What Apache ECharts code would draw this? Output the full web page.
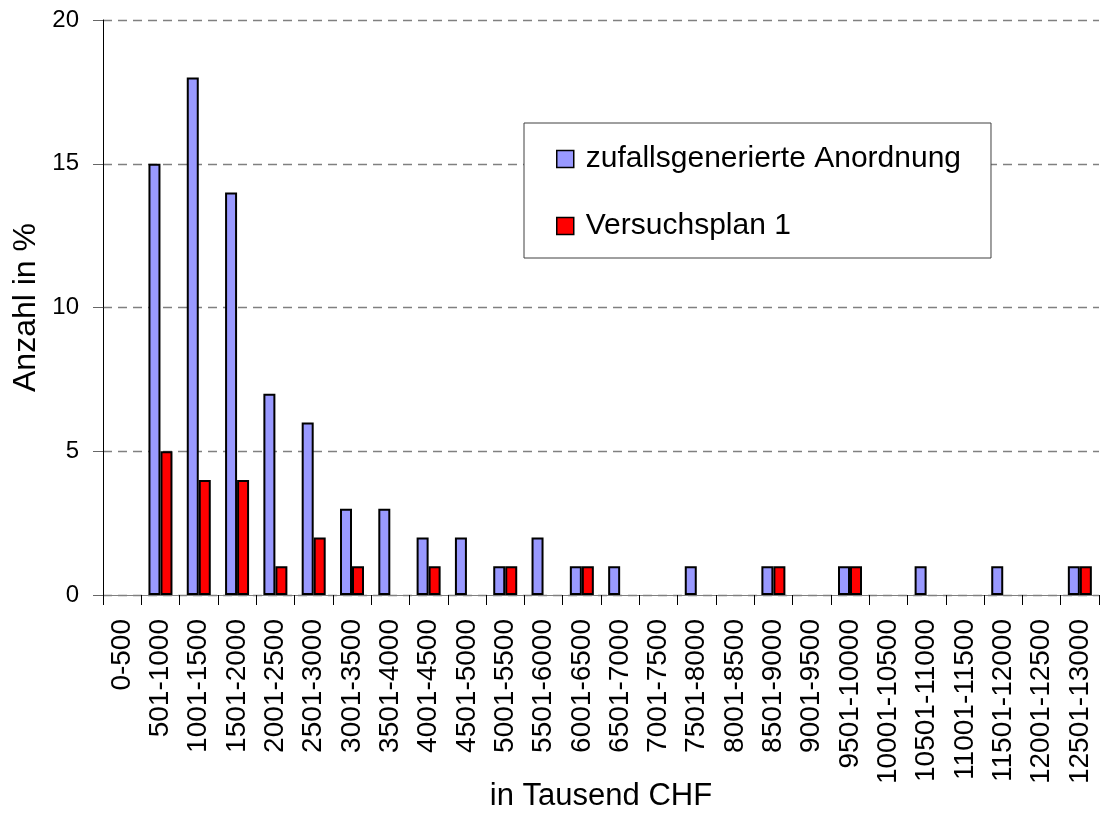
<!DOCTYPE html>
<html>
<head>
<meta charset="utf-8">
<title>Anzahl in %</title>
<script src="https://cdn.jsdelivr.net/npm/echarts@6/dist/echarts.min.js"></script>
<style>
    html, body { margin: 0; padding: 0; background: #fff; }
    #chart { width: 1100px; height: 835px; }
</style>
</head>
<body>
<div id="chart"></div>
<script>
// Klassen in Tausend CHF
const categories = [
    '0-500', '501-1000', '1001-1500', '1501-2000', '2001-2500', '2501-3000',
    '3001-3500', '3501-4000', '4001-4500', '4501-5000', '5001-5500', '5501-6000',
    '6001-6500', '6501-7000', '7001-7500', '7501-8000', '8001-8500', '8501-9000',
    '9001-9500', '9501-10000', '10001-10500', '10501-11000', '11001-11500',
    '11501-12000', '12001-12500', '12501-13000'
];
// Anzahl in %
const zufall = [0, 15, 18, 14, 7, 6, 3, 3, 2, 2, 1, 2, 1, 1, 0, 1, 0, 1, 0, 1, 0, 1, 0, 1, 0, 1];
const versuch = [0, 5, 4, 4, 1, 2, 1, 0, 1, 0, 1, 0, 1, 0, 0, 0, 0, 1, 0, 1, 0, 0, 0, 0, 0, 1];
const yTicks = [0, 5, 10, 15, 20];

const font = "'Liberation Sans', Arial, sans-serif";

// leere Balken ohne Rand, sonst liegt ein Strich auf der Achse
function barData(values) {
    return values.map(v => v === 0 ? { value: 0, itemStyle: { borderWidth: 0 } } : v);
}

var chart = echarts.init(document.getElementById('chart'), null, { renderer: 'canvas' });

chart.setOption({
    animation: false,
    backgroundColor: '#ffffff',
    textStyle: { fontFamily: font },
    grid: {
        left: 103,
        right: 1,
        top: 20,
        bottom: 240,
    },
    legend: {
        orient: 'vertical',
        left: 524,
        top: 123,
        padding: [21, 30, 17, 32],
        itemGap: 37,
        itemWidth: 17,
        itemHeight: 17,
        icon: 'rect',
        borderColor: '#404040',
        borderWidth: 1,
        backgroundColor: '#ffffff',
        textStyle: {
            fontFamily: font,
            fontSize: 30,
            lineHeight: 30,
            color: '#000',
            padding: [0, 0, 0, 7],
        },
        data: [
            { name: 'zufallsgenerierte Anordnung', itemStyle: { borderColor: '#000', borderWidth: 1.5 } },
            { name: 'Versuchsplan 1', itemStyle: { borderColor: '#000', borderWidth: 1.5 } },
        ],
    },
    xAxis: {
        type: 'category',
        data: categories,
        name: 'in Tausend CHF',
        nameLocation: 'middle',
        nameGap: 186,
        nameMoveOverlap: false,
        nameTextStyle: { fontFamily: font, fontSize: 31, color: '#000' },
        axisLine: { lineStyle: { color: '#808080', width: 1 } },
        axisTick: { show: true, interval: 0, length: 10, lineStyle: { color: '#000' } },
        axisLabel: {
            interval: 0,
            rotate: 90,
            margin: 24,
            fontFamily: font,
            fontSize: 28,
            color: '#000',
        },
        splitLine: { show: false },
    },
    yAxis: {
        type: 'value',
        min: yTicks[0],
        max: yTicks[yTicks.length - 1],
        interval: 5,
        name: 'Anzahl in %',
        nameLocation: 'middle',
        nameGap: 61,
        nameMoveOverlap: false,
        nameRotate: 90,
        nameTextStyle: { fontFamily: font, fontSize: 32, color: '#000' },
        axisLine: { show: true, lineStyle: { color: '#000', width: 1 } },
        axisTick: { show: true, length: 10, lineStyle: { color: '#666' } },
        axisLabel: { margin: 24, fontFamily: font, fontSize: 24, color: '#000' },
        splitLine: {
            show: true,
            lineStyle: { color: '#808080', type: [9, 6], width: 1.3 },
        },
    },
    series: [
        {
            name: 'zufallsgenerierte Anordnung',
            type: 'bar',
            barWidth: 12,
            barGap: '0%',
            itemStyle: { color: '#9999FF', borderColor: '#000', borderWidth: 2 },
            data: barData(zufall),
        },
        {
            name: 'Versuchsplan 1',
            type: 'bar',
            barWidth: 12,
            barGap: '0%',
            itemStyle: { color: '#FF0000', borderColor: '#000', borderWidth: 2 },
            data: barData(versuch),
        },
    ],
});
</script>
</body>
</html>
